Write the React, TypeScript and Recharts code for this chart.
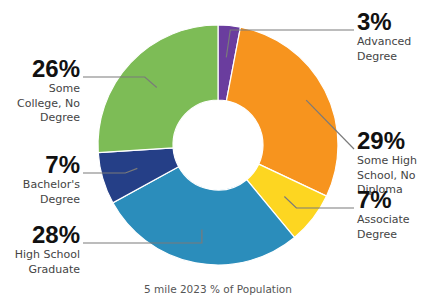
import { PieChart, Pie, Cell } from 'recharts';

const CATEGORIES = [
  'Advanced Degree',
  'Some High School, No Diploma',
  'Associate Degree',
  'High School Graduate',
  "Bachelor's Degree",
  'Some College, No Degree',
];
const SHARES = [3, 29, 7, 28, 7, 26];
const LABEL_LINES = [
  ['Advanced', 'Degree'],
  ['Some High', 'School, No', 'Diploma'],
  ['Associate', 'Degree'],
  ['High School', 'Graduate'],
  ["Bachelor's", 'Degree'],
  ['Some', 'College, No', 'Degree'],
];
const COLORS = ['#6a3d9e', '#f7941e', '#fdd621', '#2b8dbb', '#253f87', '#7dbc56'];

// label placement: baseline offset from center, leader start radius, elbow shift
const LABEL_LAYOUT = [
  { side: 1, dy: -115, r: 88, elbow: 4 },
  { side: 1, dy: 4, r: 99, elbow: 60 },
  { side: 1, dy: 63, r: 84, elbow: 12 },
  { side: -1, dy: 98, r: 86, elbow: 0 },
  { side: -1, dy: 28, r: 84, elbow: -12 },
  { side: -1, dy: -68, r: 84, elbow: -12 },
];

const data = CATEGORIES.map((name, i) => ({ name, value: SHARES[i] }));

const RAD = Math.PI / 180;
const BIG_FONT = '"Liberation Sans", Arial, Helvetica, sans-serif';
const SMALL_FONT = '"DejaVu Sans", Verdana, sans-serif';

function renderLabel(props: any) {
  const { cx, cy, midAngle, index, value } = props;
  const lay = LABEL_LAYOUT[index];
  const sx = cx + lay.r * Math.cos(-midAngle * RAD);
  const sy = cy + lay.r * Math.sin(-midAngle * RAD);
  const ly = cy + lay.dy;
  const endX = lay.side > 0 ? cx + 136 : cx - 135;
  let ex = sx + lay.elbow;
  if (lay.side > 0) ex = Math.min(ex, endX);
  else ex = Math.max(ex, endX);
  const textX = lay.side > 0 ? cx + 139 : cx - 138;
  const anchor = lay.side > 0 ? 'start' : 'end';
  return (
    <g key={`lbl-${index}`}>
      <polyline
        points={`${sx},${sy} ${ex},${ly} ${endX},${ly}`}
        fill="none"
        stroke="#7a7a7a"
        strokeWidth={1.2}
      />
      <text x={textX} y={ly} textAnchor={anchor} fontFamily={BIG_FONT} fontWeight="bold" fontSize={24} fill="#111">
        {value}%
      </text>
      {LABEL_LINES[index].map((line, j) => (
        <text
          key={j}
          x={textX}
          y={ly + 15 + j * 14.5}
          textAnchor={anchor}
          fontFamily={SMALL_FONT}
          fontSize={11}
          fill="#444"
        >
          {line}
        </text>
      ))}
    </g>
  );
}

export default function App() {
  return (
    <div style={{ position: 'absolute', left: 0, top: 0, width: 432, height: 300, background: '#fff' }}>
      <PieChart width={432} height={300} margin={{ top: 0, right: 0, bottom: 0, left: 0 }}>
        <Pie
          data={data}
          dataKey="value"
          nameKey="name"
          cx={218}
          cy={145}
          innerRadius={45}
          outerRadius={120}
          startAngle={90}
          endAngle={-270}
          stroke="#ffffff"
          strokeWidth={1.2}
          label={renderLabel}
          labelLine={false}
          isAnimationActive={false}
        >
          {data.map((d, i) => (
            <Cell key={d.name} fill={COLORS[i]} />
          ))}
        </Pie>
        <text x={218} y={293} textAnchor="middle" fontFamily={SMALL_FONT} fontSize={10.5} fill="#555">
          5 mile 2023 % of Population
        </text>
      </PieChart>
    </div>
  );
}
